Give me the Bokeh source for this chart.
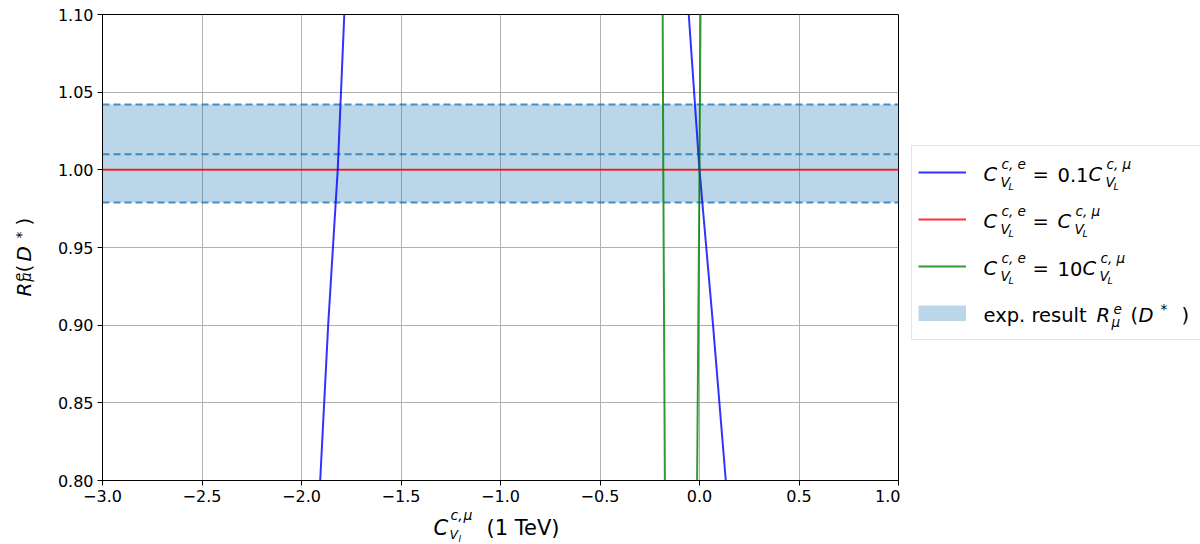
from bokeh.plotting import figure
from bokeh.layouts import row, column
from bokeh.models import (Legend, LegendItem, Label, FixedTicker, Range1d,
                          CustomJSTickFormatter)
from bokeh.embed import file_html
from bokeh.resources import INLINE

nan = float("nan")

# ---------------- data ----------------
x_ticks = [-3.0, -2.5, -2.0, -1.5, -1.0, -0.5, 0.0, 0.5, 1.0]
x_tick_labels = ["\u22123.0", "\u22122.5", "\u22122.0", "\u22121.5", "\u22121.0",
                 "\u22120.5", "0.0", "0.5", "1.0"]
y_ticks = [0.80, 0.85, 0.90, 0.95, 1.00, 1.05, 1.10]
y_tick_labels = ["0.80", "0.85", "0.90", "0.95", "1.00", "1.05", "1.10"]

# C_VL^{c,e} = 0.1 C_VL^{c,mu}  (two branches)
blue_x = [-1.906, -1.866, -1.818, -1.785, nan, -0.054, 0.0, 0.068, 0.132]
blue_y = [0.80, 0.90, 1.00, 1.10, nan, 1.10, 1.00, 0.90, 0.80]
# C_VL^{c,e} = C_VL^{c,mu}
red_x = [-3.0, 1.0]
red_y = [1.0, 1.0]
# C_VL^{c,e} = 10 C_VL^{c,mu}  (two branches)
green_x = [-0.174, -0.182, -0.185, nan, -0.012, 0.0, 0.005]
green_y = [0.80, 1.00, 1.10, nan, 0.80, 1.00, 1.10]
# experimental band R_mu^e(D*)
band_x = [-3.0, 1.0]
band_low = [0.979, 0.979]
band_mid = [1.010, 1.010]
band_high = [1.042, 1.042]

# ---------------- layout geometry (page pixels) ----------------
YW = 54                 # width of y-label strip
LW = 300                # legend strip width
PW, PH = 1200 - YW - LW, 508   # main figure
XH = 544 - PH           # x-label strip height
FRAME_L, FRAME_R, FRAME_T, FRAME_B = 101, 898, 14, 480

p = figure(width=PW, height=PH, x_range=Range1d(-3.0, 1.0), y_range=Range1d(0.80, 1.10),
           output_backend="svg", toolbar_location=None,
           min_border_left=FRAME_L - YW, min_border_right=YW + PW - FRAME_R,
           min_border_top=FRAME_T, min_border_bottom=PH - FRAME_B)
p.background_fill_color = "white"
p.border_fill_color = "white"
p.outline_line_color = "black"
p.outline_line_width = 1

def fmt(ticks, labels):
    return CustomJSTickFormatter(args=dict(tv=ticks, tl=labels), code="""
        for (let i = 0; i < tv.length; i++) {
            if (Math.abs(tv[i] - tick) < 1e-9) { return tl[i]; }
        }
        return "";
    """)

for ax, ticks, labels in ((p.xaxis[0], x_ticks, x_tick_labels), (p.yaxis[0], y_ticks, y_tick_labels)):
    ax.ticker = FixedTicker(ticks=ticks)
    ax.formatter = fmt(ticks, labels)
    ax.axis_label = None
    ax.axis_label_standoff = 0
    ax.axis_line_color = "black"
    ax.axis_line_width = 1
    ax.major_tick_line_color = "black"
    ax.major_tick_out = 5
    ax.major_tick_in = 0
    ax.minor_tick_out = 0
    ax.minor_tick_in = 0
    ax.major_label_text_font = "DejaVu Sans"
    ax.major_label_text_font_size = "16px"
    ax.major_label_text_color = "black"
    ax.major_label_standoff = 4

p.xgrid.ticker = FixedTicker(ticks=x_ticks)
p.ygrid.ticker = FixedTicker(ticks=y_ticks)
for g in (p.xgrid[0], p.ygrid[0]):
    g.grid_line_color = "#b0b0b0"
    g.grid_line_width = 1

BAND = "#1f77b4"
p.varea(x=band_x, y1=band_low, y2=band_high, fill_color=BAND, fill_alpha=0.3)
for yy in (band_high, band_mid, band_low):
    p.line(band_x, yy, line_color=BAND, line_alpha=0.8, line_width=2, line_dash="7 4")
p.line(red_x, red_y, line_color="red", line_alpha=0.8, line_width=2)
p.line(blue_x, blue_y, line_color="blue", line_alpha=0.8, line_width=2)
p.line(green_x, green_y, line_color="green", line_alpha=0.8, line_width=2)

# ---------------- helper strips ----------------
def strip(w, h, rng=(0, 1)):
    f = figure(width=w, height=h, x_range=Range1d(*rng), y_range=Range1d(*rng),
               output_backend="svg", toolbar_location=None,
               x_axis_location=None, y_axis_location=None, min_border=0)
    f.outline_line_color = None
    f.background_fill_color = "white"
    f.border_fill_color = "white"
    f.xgrid.visible = False
    f.ygrid.visible = False
    return f

yfig = strip(YW, 544)
xfig = strip(PW, XH)
lfig = strip(LW, 544, (50, 51))
# (frame left, frame bottom) of each strip in page pixels
ORIG = {id(yfig): (0, 544), id(xfig): (FRAME_L, 544), id(lfig): (YW + PW, 544)}
DROP = 0.3   # labels render this many em below the requested baseline; compensate

def put(f, text, X, Y, size, italic=False, angle=0):
    """X, Y: page pixel position of the run's left baseline point."""
    left, bottom = ORIG[id(f)]
    d = DROP * size
    if angle == 0:
        Y = Y - d
    else:
        X = X - d
    f.add_layout(Label(x=X - left, y=bottom - Y, x_units="screen", y_units="screen",
                       text=text, text_font="DejaVu Sans", text_font_size=f"{size}px",
                       text_font_style="italic" if italic else "normal",
                       text_color="black", text_align="left", text_baseline="alphabetic",
                       angle=angle, angle_units="deg"))

# legend keys: same series, drawn in a strip whose ranges keep them out of view
kb = lfig.line(blue_x, blue_y, line_color="blue", line_alpha=0.8, line_width=2)
kr = lfig.line(red_x, red_y, line_color="red", line_alpha=0.8, line_width=2)
kg = lfig.line(green_x, green_y, line_color="green", line_alpha=0.8, line_width=2)
kf = lfig.line(band_x, band_mid, line_color=BAND, line_alpha=0.3, line_width=16)
legend = Legend(items=[LegendItem(label=" ", renderers=[kb]),
                       LegendItem(label=" ", renderers=[kr]),
                       LegendItem(label=" ", renderers=[kg]),
                       LegendItem(label=" ", renderers=[kf])],
                location=(911 - (YW + PW), 544 - (147 + 193)), orientation="vertical",
                glyph_width=48, glyph_height=16, label_width=260, label_height=40,
                spacing=7, padding=6, margin=0, label_standoff=18,
                border_line_color="#cccccc", border_line_width=1,
                background_fill_alpha=0.0,
                label_text_font_size="19px")
lfig.add_layout(legend)

# x axis label  C^{c,mu}_{V_l} (1 TeV)
put(xfig, "C", 432, 534, 21, True)
put(xfig, "c,", 449, 518.5, 14, True)
put(xfig, "\u03bc", 462, 518.5, 14, True)
put(xfig, "V", 448, 538, 12.5, True)
put(xfig, "l", 457, 541.5, 9, True)
put(xfig, "(1 TeV)", 485, 534, 21)

# y axis label  R^e_mu(D^*)   (rotated)
put(yfig, "R", 29, 296, 20, True, 90)
put(yfig, "e", 22.5, 281, 14, True, 90)
put(yfig, "\u03bc", 30, 281, 14, True, 90)
put(yfig, "(", 29, 272, 20, False, 90)
put(yfig, "D", 29, 261, 20, True, 90)
put(yfig, "*", 25, 238, 14, False, 90)
put(yfig, ")", 29, 225, 20, False, 90)

L, LS, LSS = 19.5, 13.6, 9.5
def cvl(X, base, sup):
    put(lfig, "C", X, base, L, True)
    put(lfig, sup, X + 18, base - 12, LS, True)
    put(lfig, "V", X + 17, base + 6, LS, True)
    put(lfig, "L", X + 25, base + 9, LSS, True)

rows = [180, 227, 274, 321]
cvl(983, rows[0], "c, e"); put(lfig, "=", 1032, rows[0], L); put(lfig, "0.1", 1057, rows[0], L)
cvl(1088, rows[0], "c, \u03bc")
cvl(983, rows[1], "c, e"); put(lfig, "=", 1032, rows[1], L)
cvl(1057, rows[1], "c, \u03bc")
cvl(983, rows[2], "c, e"); put(lfig, "=", 1032, rows[2], L); put(lfig, "10", 1057, rows[2], L)
cvl(1082, rows[2], "c, \u03bc")
put(lfig, "exp. result", 983, rows[3], L)
put(lfig, "R", 1096, rows[3], L, True)
put(lfig, "e", 1113, rows[3] - 8, LS, True)
put(lfig, "\u03bc", 1111, rows[3] + 5, LS, True)
put(lfig, "(", 1130, rows[3], L)
put(lfig, "D", 1138, rows[3], L, True)
put(lfig, "*", 1160, rows[3] - 8, LS)
put(lfig, ")", 1181, rows[3], L)

layout = row(yfig, column(p, xfig), lfig)
open("out.html", "w").write(file_html(layout, INLINE))
